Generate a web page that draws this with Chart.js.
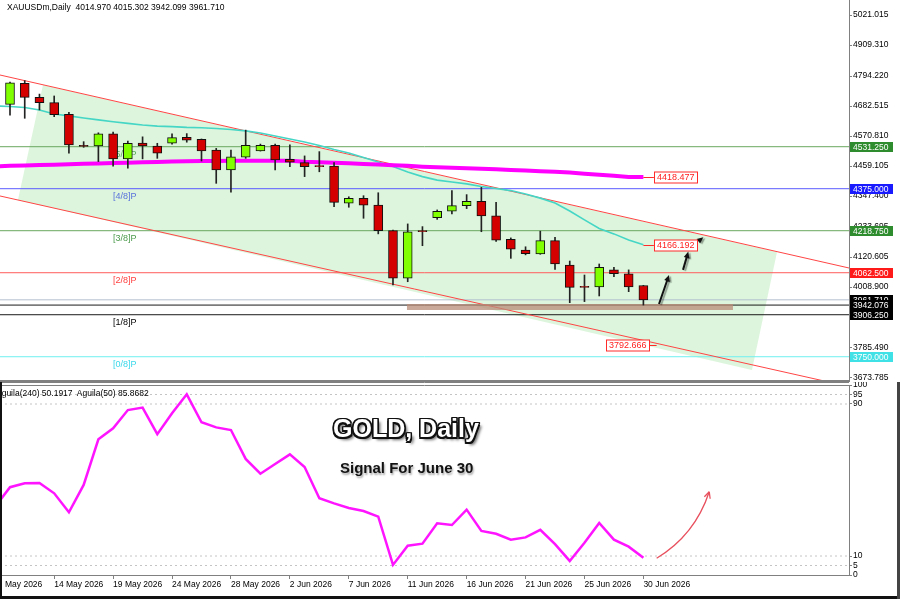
<!DOCTYPE html>
<html>
<head>
<meta charset="utf-8">
<script src="https://cdn.jsdelivr.net/npm/chart.js@4.4.0/dist/chart.umd.min.js"></script>
<style>
  html, body { margin: 0; padding: 0; background: #fff; }
  #wrap { position: relative; width: 900px; height: 599px; overflow: hidden; background: #fff;
          font-family: "Liberation Sans", Arial, sans-serif; }
  canvas { position: absolute; left: 0; }
  #priceCanvas { top: 0; }
  #oscCanvas { top: 382px; }
  .txt { position: absolute; white-space: pre; color: #000; }
  #hdr { left: 7px; top: 2px; font-size: 8.5px; }
  #oscHdr { left: -4px; top: 388px; font-size: 8.5px; }
  #title { left: 333px; top: 414px; font-size: 25px; line-height: 28px; font-weight: bold; color: #fff;
           text-shadow: -1.5px -1.5px 0 #111, 1.5px -1.5px 0 #111, -1.5px 1.5px 0 #111, 1.5px 1.5px 0 #111,
                        0 -1.5px 0 #111, 0 1.5px 0 #111, -1.5px 0 0 #111, 1.5px 0 0 #111, 3px 3px 3px rgba(0,0,0,0.6); }
  #subtitle { left: 340px; top: 459px; font-size: 15px; line-height: 18px; font-weight: bold; color: #111;
              text-shadow: 1px 2px 2px rgba(0,0,0,0.35); }
  .edge { position: absolute; background: #111; }
</style>
</head>
<body>
<div id="wrap">
  <canvas id="priceCanvas" width="900" height="382"></canvas>
  <canvas id="oscCanvas" width="900" height="217"></canvas>
  <div class="txt" id="hdr">XAUUSDm,Daily  4014.970 4015.302 3942.099 3961.710</div>
  <div class="txt" id="oscHdr">Aguila(240) 50.1917  Aguila(50) 85.8682</div>
  <div class="txt" id="title">GOLD, Daily</div>
  <div class="txt" id="subtitle">Signal For June 30</div>
  <div class="edge" style="left:0;top:382px;width:2px;height:217px"></div>
  <div class="edge" style="left:0;top:596px;width:900px;height:3px"></div>
  <div class="edge" style="left:897px;top:382px;width:3px;height:217px;background:#444"></div>
</div>
<script>
// ---- dados do grafico (indice 0 = primeira vela visivel) ----
const opens  = [4689, 4767, 4715, 4695, 4652, 4536, 4534, 4579, 4486, 4545, 4534, 4544, 4566, 4559, 4519, 4445,
                4492, 4516, 4536, 4484, 4472, 4461, 4459, 4321, 4339, 4314, 4219, 4042, 4219, 4267, 4291, 4312,
                4328, 4274, 4187, 4147, 4132, 4182, 4091, 4012, 4010, 4073, 4058, 4014.970];
const highs  = [4772, 4777, 4727, 4720, 4659, 4550, 4583, 4586, 4552, 4568, 4544, 4579, 4580, 4560, 4525, 4519,
                4593, 4541, 4541, 4538, 4497, 4513, 4472, 4345, 4349, 4360, 4221, 4244, 4234, 4296, 4368, 4353,
                4380, 4324, 4192, 4159, 4217, 4194, 4106, 4054, 4095, 4083, 4073, 4015.302];
const lows   = [4649, 4637, 4668, 4643, 4507, 4529, 4476, 4459, 4451, 4486, 4488, 4541, 4548, 4478, 4395, 4362,
                4488, 4515, 4445, 4457, 4420, 4438, 4308, 4306, 4265, 4207, 4017, 4029, 4163, 4261, 4281, 4301,
                4215, 4179, 4116, 4129, 4131, 4075, 3951, 3955, 3976, 4048, 3992, 3942.099];
const closes = [4769, 4715, 4695, 4650, 4538, 4532, 4579, 4486, 4544, 4534, 4507, 4565, 4556, 4516, 4445, 4494,
                4536, 4536, 4482, 4474, 4457, 4457, 4324, 4339, 4314, 4219, 4042, 4215, 4215, 4291, 4312, 4328,
                4274, 4184, 4150, 4133, 4182, 4095, 4008, 4008, 4083, 4059, 4010, 3961.710];

// medias e oscilador comecam uma vela antes (indice -1)
const seriesStart = -1;
const maFast = [4683, 4681, 4677, 4668, 4653, 4646, 4638, 4631, 4624, 4618, 4612, 4608, 4606, 4603, 4602, 4599,
                4595, 4590, 4582, 4571, 4560, 4549, 4536, 4521, 4508, 4491, 4474, 4458, 4437, 4420, 4407, 4400,
                4393, 4383, 4376, 4368, 4355, 4340, 4322, 4292, 4259, 4227, 4207, 4184, 4166.192];
const maSlow = [4458, 4460, 4461, 4463, 4464, 4466, 4468, 4469, 4471, 4472, 4473, 4474, 4476, 4477, 4478, 4478,
                4479, 4479, 4479, 4479, 4479, 4475, 4473, 4472, 4470, 4467, 4465, 4462, 4460, 4457, 4455, 4453,
                4451, 4449, 4447, 4445, 4443, 4440, 4438, 4435, 4431, 4427, 4423, 4419, 4418.477];
const aguila = [36, 46.2, 48.3, 48.4, 43.0, 33.0, 47.4, 71.4, 77.2, 86.8, 88.1, 74.1, 85.1, 95.1, 80.4, 77.7,
                76.3, 61.1, 53.3, 58.4, 63.5, 56.8, 40.4, 37.7, 35.3, 33.7, 30.7, 5.3, 15.4, 16.5, 27.2, 26.3,
                34.4, 23.2, 21.7, 18.6, 19.8, 23.8, 16.2, 7.4, 17.0, 27.4, 18.6, 14.9, 9.1];
const aguilaLevels = [95, 90, 10, 5];

// niveis horizontais (Murrey) e etiquetas
const levelPrices = [4531.25, 4375, 4218.75, 4062.5, 3961.71, 3942.076, 3906.25, 3750];
const levelNames  = ['[5/8]P', '[4/8]P', '[3/8]P', '[2/8]P', '', '', '[1/8]P', '[0/8]P'];
const levelTags   = ['4531.250', '4375.000', '4218.750', '4062.500', '3961.710', '3942.076', '3906.250', '3750.000'];

// canal e zonas (indice da vela, preco)
const upperChannel = [[-0.68, 4798], [56.96, 4080]];
const lowerChannel = [[-0.68, 4348], [56.96, 3639]];
const channelZone  = [[0.54, 4333], [2.24, 4761], [52.07, 4140], [50.37, 3701], [0.54, 4333]];
const supportZone  = [[26.95, 3935], [49.08, 3935]];
const upArrows     = [[44.06, 3946, 44.74, 4054], [45.69, 4073, 46.05, 4141], [46.84, 4184, 47.07, 4194]];
const valueTags    = [[43, 4418.477, '4418.477', 1], [43, 4166.192, '4166.192', 1], [43.9, 3792.666, '3792.666', -1]];
const oscArrow     = [[43.9, 8.8], [46.5, 21], [47.47, 43.8]];

// eixos
const priceTicks = [5021.015, 4909.310, 4794.220, 4682.515, 4570.810, 4459.105, 4347.400, 4233.695,
                    4120.605, 4008.900, 3897.195, 3785.490, 3673.785];
const oscTicks   = [100, 95, 90, 10, 5, 0];
const dateTickIdx = [-0.34, 3, 7, 11, 15, 19, 23, 27, 31, 35, 39, 43];
const dateLabels  = ['May 2026', '14 May 2026', '19 May 2026', '24 May 2026', '28 May 2026', '2 Jun 2026',
                     '7 Jun 2026', '11 Jun 2026', '16 Jun 2026', '21 Jun 2026', '25 Jun 2026', '30 Jun 2026'];

// ---- estilos ----
const X_MIN = -0.679, X_MAX = 56.958;
const BULL = '#80ff00', BEAR = '#d40000';
const levelLine = ['#6aa860', '#5a5aff', '#6aa860', '#ff5a5a', '#b4c0d0', '#1a1a1a', '#1a1a1a', '#70f0f0'];
const levelText = ['#4c9a4c', '#4a4aff', '#4c9a4c', '#ff4040', '', '', '#000', '#3cd8ea'];
const tagFill   = ['#2e8b2e', '#1a1aff', '#2e8b2e', '#ff1a1a', '#000', '#000', '#000', '#3fe0e6'];
const FONT = '"Liberation Sans", Arial, sans-serif';
Chart.defaults.font.family = FONT;

const xy = (arr) => arr.map(p => ({ x: p[0], y: p[1] }));
const fromStart = (arr) => arr.map((v, k) => ({ x: k + seriesStart, y: v }));

function drawArrow(ctx, x1, y1, x2, y2, size) {
  const a = Math.atan2(y2 - y1, x2 - x1);
  ctx.beginPath();
  ctx.moveTo(x1, y1);
  ctx.lineTo(x2 - Math.cos(a) * size * 0.6, y2 - Math.sin(a) * size * 0.6);
  ctx.stroke();
  ctx.beginPath();
  ctx.moveTo(x2, y2);
  ctx.lineTo(x2 - size * Math.cos(a - 0.42), y2 - size * Math.sin(a - 0.42));
  ctx.lineTo(x2 - size * Math.cos(a + 0.42), y2 - size * Math.sin(a + 0.42));
  ctx.closePath();
  ctx.fill();
}

// textos dos niveis, desenhados por baixo das velas
const levelTextPlugin = {
  id: 'levelText',
  beforeDatasetsDraw(chart) {
    const { ctx, scales: { x, y } } = chart;
    ctx.save();
    ctx.font = '9px ' + FONT;
    ctx.textBaseline = 'middle';
    levelNames.forEach((name, i) => {
      if (!name) return;
      ctx.fillStyle = levelText[i];
      ctx.fillText(name, x.getPixelForValue(7), y.getPixelForValue(levelPrices[i]) + 7.5);
    });
    ctx.restore();
  }
};

// setas, etiquetas de preco e caixas do eixo
const priceOverlay = {
  id: 'priceOverlay',
  afterDatasetsDraw(chart) {
    const { ctx, chartArea, scales: { x, y } } = chart;
    ctx.save();
    // setas pretas
    ctx.strokeStyle = '#111';
    ctx.fillStyle = '#111';
    ctx.lineWidth = 2;
    ctx.shadowColor = 'rgba(0,0,0,0.35)';
    ctx.shadowOffsetX = 2;
    ctx.shadowOffsetY = 1;
    ctx.shadowBlur = 1;
    upArrows.forEach(a => {
      drawArrow(ctx, x.getPixelForValue(a[0]), y.getPixelForValue(a[1]),
                x.getPixelForValue(a[2]), y.getPixelForValue(a[3]), 7);
    });
    ctx.shadowColor = 'transparent';

    // etiquetas vermelhas
    ctx.font = '9px ' + FONT;
    ctx.textBaseline = 'middle';
    ctx.lineWidth = 1;
    valueTags.forEach(t => {
      const px = x.getPixelForValue(t[0]);
      const py = Math.round(y.getPixelForValue(t[1])) + 0.5;
      const w = 43, h = 11;
      const left = t[3] > 0 ? px + 10.5 : px - 7.5 - w;
      ctx.strokeStyle = '#ff2a2a';
      ctx.beginPath();
      if (t[3] > 0) { ctx.moveTo(px, py); ctx.lineTo(left, py); }
      else { ctx.moveTo(left + w, py); ctx.lineTo(px, py); }
      ctx.stroke();
      ctx.fillStyle = '#fff';
      ctx.fillRect(Math.round(left) + 0.5, py - h / 2, w, h);
      ctx.strokeRect(Math.round(left) + 0.5, py - h / 2, w, h);
      ctx.fillStyle = '#ff2020';
      ctx.fillText(t[2], Math.round(left) + 3, py + 0.5);
    });

    // caixas coloridas no eixo de precos
    ctx.font = '8.5px ' + FONT;
    levelTags.forEach((txt, i) => {
      const py = y.getPixelForValue(levelPrices[i]);
      ctx.fillStyle = tagFill[i];
      ctx.fillRect(chartArea.right + 1, Math.round(py - 5), 43, 10);
      ctx.fillStyle = '#fff';
      ctx.fillText(txt, chartArea.right + 4, Math.round(py - 5) + 5.5);
    });

    // linha de separacao inferior
    ctx.strokeStyle = '#808080';
    ctx.lineWidth = 2;
    ctx.beginPath();
    ctx.moveTo(0, chartArea.bottom);
    ctx.lineTo(chartArea.right, chartArea.bottom);
    ctx.stroke();
    ctx.restore();
  }
};

const oscOverlay = {
  id: 'oscOverlay',
  afterDatasetsDraw(chart) {
    const { ctx, chartArea, scales: { x, y } } = chart;
    ctx.save();
    ctx.strokeStyle = '#808080';
    ctx.lineWidth = 1;
    ctx.beginPath();
    ctx.moveTo(0, 0.5);
    ctx.lineTo(chartArea.right, 0.5);
    ctx.moveTo(0, chartArea.top + 0.5);
    ctx.lineTo(chartArea.right, chartArea.top + 0.5);
    ctx.stroke();

    // seta curva vermelha
    const p = oscArrow.map(q => [x.getPixelForValue(q[0]), y.getPixelForValue(q[1])]);
    ctx.strokeStyle = '#e8505e';
    ctx.fillStyle = '#e8505e';
    ctx.lineWidth = 1.3;
    ctx.beginPath();
    ctx.moveTo(p[0][0], p[0][1]);
    ctx.quadraticCurveTo(p[1][0], p[1][1], p[2][0], p[2][1]);
    ctx.stroke();
    const a = Math.atan2(p[2][1] - p[1][1], p[2][0] - p[1][0]);
    ctx.beginPath();
    ctx.moveTo(p[2][0], p[2][1]);
    ctx.lineTo(p[2][0] - 7 * Math.cos(a - 0.45), p[2][1] - 7 * Math.sin(a - 0.45));
    ctx.moveTo(p[2][0], p[2][1]);
    ctx.lineTo(p[2][0] - 7 * Math.cos(a + 0.45), p[2][1] - 7 * Math.sin(a + 0.45));
    ctx.stroke();
    ctx.restore();
  }
};

// ---- painel de precos ----
const priceDatasets = [
  {
    type: 'bar', label: 'body', order: 0, grouped: false,
    data: opens.map((o, i) => ({ x: i, y: [o, closes[i]] })),
    backgroundColor: opens.map((o, i) => (closes[i] >= o ? BULL : BEAR)),
    borderColor: '#111', borderWidth: 1, borderSkipped: false, barThickness: 9
  },
  {
    type: 'bar', label: 'wick', order: 1, grouped: false,
    data: highs.map((h, i) => ({ x: i, y: [lows[i], h] })),
    backgroundColor: '#222', borderWidth: 0, barThickness: 1
  },
  { type: 'line', label: 'maSlow', order: 2, data: fromStart(maSlow), borderColor: '#ff00ff', borderWidth: 4, pointRadius: 0 },
  { type: 'line', label: 'maFast', order: 3, data: fromStart(maFast), borderColor: '#45d6c6', borderWidth: 1.6, pointRadius: 0 },
  { type: 'line', label: 'support', order: 4, data: xy(supportZone), borderColor: 'rgba(185,140,120,0.75)', borderWidth: 6, pointRadius: 0, borderCapStyle: 'butt' },
  { type: 'line', label: 'upper', order: 5, data: xy(upperChannel), borderColor: '#ff4545', borderWidth: 1, pointRadius: 0 },
  { type: 'line', label: 'lower', order: 5, data: xy(lowerChannel), borderColor: '#ff4545', borderWidth: 1, pointRadius: 0 }
];
levelPrices.forEach((v, i) => {
  priceDatasets.push({
    type: 'line', label: 'lvl' + i, order: 6,
    data: [{ x: X_MIN, y: v }, { x: X_MAX, y: v }],
    borderColor: levelLine[i], borderWidth: 1, pointRadius: 0
  });
});
priceDatasets.push({
  type: 'line', label: 'zone', order: 9, data: xy(channelZone),
  borderWidth: 0, pointRadius: 0, fill: 'shape', backgroundColor: 'rgba(130,220,130,0.28)'
});

new Chart(document.getElementById('priceCanvas'), {
  type: 'line',
  data: { datasets: priceDatasets },
  options: {
    responsive: false,
    animation: false,
    events: [],
    layout: { autoPadding: false, padding: { left: 0, right: 0, top: 0, bottom: 1 } },
    plugins: { legend: { display: false }, tooltip: { enabled: false } },
    scales: {
      x: { type: 'linear', min: X_MIN, max: X_MAX, offset: false, grid: { offset: false }, display: false },
      y: {
        position: 'right', min: 3659.7, max: 5077, beginAtZero: false,
        grid: { drawOnChartArea: false, tickLength: 3, tickColor: '#808080' },
        border: { display: true, color: '#808080' },
        ticks: { autoSkip: false, padding: 1, color: '#000', font: { size: 8.5 }, callback: v => v.toFixed(3) },
        afterBuildTicks: s => { s.ticks = priceTicks.map(v => ({ value: v })); },
        afterFit: s => { s.width = 51; s.paddingTop = 0; s.paddingBottom = 0; }
      }
    }
  },
  plugins: [levelTextPlugin, priceOverlay]
});

// ---- painel do oscilador ----
const oscDatasets = [
  { type: 'line', label: 'aguila', order: 0, data: fromStart(aguila), borderColor: '#ff14ff', borderWidth: 2.5, pointRadius: 0 }
];
aguilaLevels.forEach(v => {
  oscDatasets.push({
    type: 'line', label: 'lv' + v, order: 1,
    data: [{ x: X_MIN, y: v }, { x: X_MAX, y: v }],
    borderColor: '#c4c4c4', borderWidth: 1, borderDash: [2, 3], pointRadius: 0
  });
});

new Chart(document.getElementById('oscCanvas'), {
  type: 'line',
  data: { datasets: oscDatasets },
  options: {
    responsive: false,
    animation: false,
    events: [],
    layout: { autoPadding: false, padding: { left: 0, right: 0, top: 3, bottom: 0 } },
    plugins: { legend: { display: false }, tooltip: { enabled: false } },
    scales: {
      x: {
        type: 'linear', min: X_MIN, max: X_MAX, offset: false,
        grid: { drawOnChartArea: false, tickLength: 4, tickColor: c => (c.index === 0 ? 'rgba(0,0,0,0)' : '#808080') },
        border: { display: true, color: '#808080' },
        ticks: { autoSkip: false, maxRotation: 0, align: 'start', padding: 1, color: '#000', font: { size: 8.5 },
                 callback: (v, i) => dateLabels[i] },
        afterBuildTicks: s => { s.ticks = dateTickIdx.map(v => ({ value: v })); },
        afterFit: s => { s.height = 24; s.paddingLeft = 0; s.paddingRight = 0; }
      },
      y: {
        position: 'right', min: 0, max: 100,
        grid: { drawOnChartArea: false, tickLength: 3, tickColor: '#808080' },
        border: { display: true, color: '#808080' },
        ticks: { autoSkip: false, padding: 1, color: '#000', font: { size: 8.5 }, callback: v => String(v) },
        afterBuildTicks: s => { s.ticks = oscTicks.map(v => ({ value: v })); },
        afterFit: s => { s.width = 51; s.paddingTop = 0; s.paddingBottom = 0; }
      }
    }
  },
  plugins: [oscOverlay]
});
</script>
</body>
</html>
